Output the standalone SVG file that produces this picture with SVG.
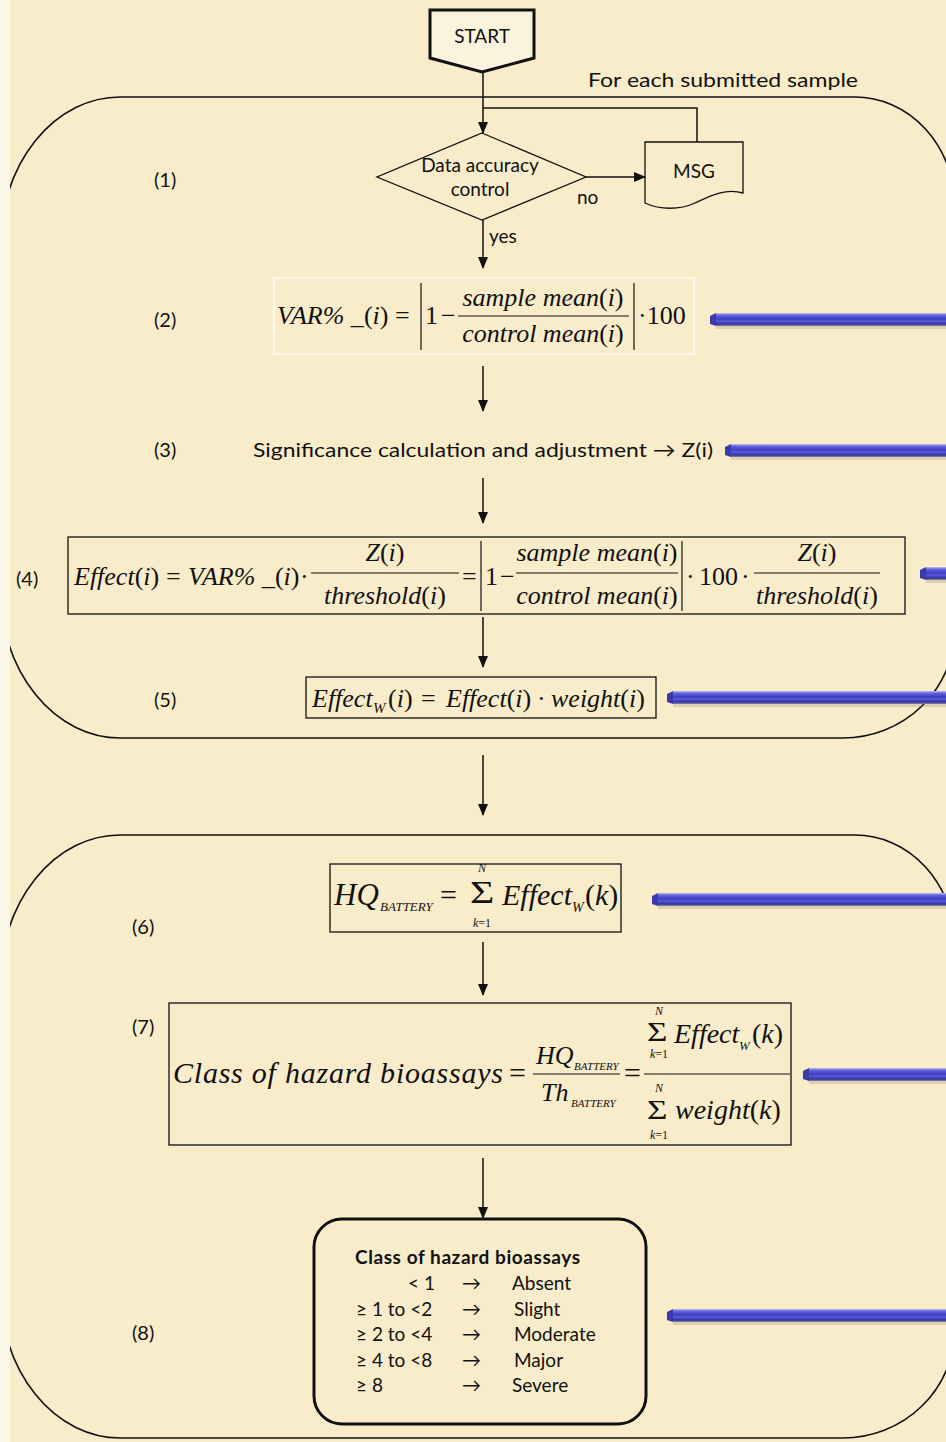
<svg xmlns="http://www.w3.org/2000/svg" width="946" height="1442" viewBox="0 0 946 1442">
<style>
.lbl{font-family:Lato,"Liberation Sans",sans-serif;font-size:20px;fill:#111}
.t{font-family:Lato,"Liberation Sans",sans-serif;font-size:19px;fill:#111}
.m{font-family:"Liberation Serif",serif;font-style:italic;fill:#111}
.u{font-style:normal}
.box{fill:none;stroke:#111;stroke-width:1.3}
.reg{fill:none;stroke:#111;stroke-width:1.6}
.flow{fill:none;stroke:#111;stroke-width:1.5}
.bar{fill:url(#barG)}
.barcap{fill:#3a3aa8}
.shadow{fill:#8a7a60;opacity:0.25}
.rule{stroke:#111;stroke-width:1.2}
</style>
<defs>
<linearGradient id="barG" x1="0" y1="0" x2="0" y2="1">
<stop offset="0" stop-color="#c4c4f2"/>
<stop offset="0.15" stop-color="#6868e0"/>
<stop offset="0.45" stop-color="#3c3cc4"/>
<stop offset="0.62" stop-color="#5a5ad4"/>
<stop offset="0.85" stop-color="#32329c"/>
<stop offset="1" stop-color="#8686a8"/>
</linearGradient>
<marker id="arr" markerWidth="12" markerHeight="12" refX="11" refY="6" orient="auto" markerUnits="userSpaceOnUse">
<path d="M0,1 L12,6 L0,11 Z" fill="#111"/>
</marker>
</defs>

<rect x="0" y="0" width="946" height="1442" fill="#f8ecca"/>

<g id="region1">
<path class="reg" d="M120 97 H855 A100 110 0 0 1 955 207 V628 A112 110 0 0 1 843 738 H120 A120 150 0 0 1 0 588 V247 A120 150 0 0 1 120 97 Z"/>
<text class="lbl" x="588" y="87" font-size="23" textLength="270" lengthAdjust="spacingAndGlyphs">For each submitted sample</text>
</g>
<g id="region2">
<path class="reg" d="M120 835 H855 A100 110 0 0 1 955 945 V1328 A112 110 0 0 1 843 1438 H120 A120 150 0 0 1 0 1288 V985 A120 150 0 0 1 120 835 Z"/>
</g>
<rect x="0" y="0" width="10" height="1442" fill="#fcf6e8"/>

<g id="connectors">
<line class="flow" x1="483" y1="72" x2="483" y2="133" marker-end="url(#arr)"/>
<polyline class="flow" points="697,142 697,108 483,108"/>
<line class="flow" x1="586" y1="177" x2="645" y2="177" marker-end="url(#arr)"/>
<line class="flow" x1="483" y1="220" x2="483" y2="268" marker-end="url(#arr)"/>
<line class="flow" x1="483" y1="366" x2="483" y2="411" marker-end="url(#arr)"/>
<line class="flow" x1="483" y1="478" x2="483" y2="523" marker-end="url(#arr)"/>
<line class="flow" x1="483" y1="617" x2="483" y2="667" marker-end="url(#arr)"/>
<line class="flow" x1="483" y1="755" x2="483" y2="815" marker-end="url(#arr)"/>
<line class="flow" x1="483" y1="942" x2="483" y2="995" marker-end="url(#arr)"/>
<line class="flow" x1="483" y1="1158" x2="483" y2="1218" marker-end="url(#arr)"/>
<text class="t" x="577" y="204" font-size="18">no</text>
<text class="t" x="489" y="243" font-size="19">yes</text>
</g>

<g id="start">
<polygon points="430,10 534,10 534,58 482,72 430,58" fill="#fbf3dc" stroke="#111" stroke-width="3"/>
<text class="t" x="482" y="43" text-anchor="middle" font-size="18">START</text>
</g>

<g id="step1">
<text class="lbl" x="154" y="187">(1)</text>
<polygon points="482,133 586,177 482,220 377,177" fill="none" stroke="#111" stroke-width="1.3"/>
<text class="t" x="480" y="172" text-anchor="middle" font-size="21">Data accuracy</text>
<text class="t" x="480" y="196" text-anchor="middle" font-size="21">control</text>
</g>

<g id="msg">
<path d="M645 142 H743 V193 C725 188 710 196 695 203 C680 210 660 210 645 203 Z" fill="none" stroke="#111" stroke-width="1.3"/>
<text class="t" x="694" y="178" text-anchor="middle">MSG</text>
</g>

<g id="step2">
<text class="lbl" x="154" y="327">(2)</text>
<rect x="274" y="278" width="420" height="76" fill="none" stroke="#fff" stroke-width="1.2"/>
<text class="m" font-size="26" y="324"><tspan x="277">VAR% _</tspan><tspan class="u">(</tspan>i<tspan class="u">) =</tspan></text>
<line class="rule" x1="421" y1="283" x2="421" y2="350"/>
<text class="m u" font-size="26" y="324"><tspan x="425">1</tspan><tspan x="441">−</tspan></text>
<line class="rule" x1="458" y1="316" x2="629" y2="316"/>
<text class="m" font-size="26" x="543" y="306" text-anchor="middle">sample mean<tspan class="u">(</tspan>i<tspan class="u">)</tspan></text>
<text class="m" font-size="26" x="543" y="342" text-anchor="middle">control mean<tspan class="u">(</tspan>i<tspan class="u">)</tspan></text>
<line class="rule" x1="634" y1="283" x2="634" y2="350"/>
<text class="m u" font-size="26" x="638" y="324">·100</text>
</g>

<g id="step3">
<text class="lbl" x="154" y="457">(3)</text>
<text class="lbl" x="253" y="457" font-size="23" textLength="460" lengthAdjust="spacingAndGlyphs">Significance calculation and adjustment → Z(i)</text>
</g>

<g id="step4">
<text class="lbl" x="16" y="586">(4)</text>
<rect class="box" x="68" y="537" width="837" height="77"/>
<text class="m" font-size="26" y="585"><tspan x="74">Effect</tspan><tspan class="u">(</tspan>i<tspan class="u">)</tspan><tspan class="u" x="166">=</tspan><tspan x="188">VAR% _</tspan><tspan class="u">(</tspan>i<tspan class="u">)</tspan><tspan class="u" x="300">·</tspan></text>
<line class="rule" x1="311" y1="573" x2="459" y2="573"/>
<text class="m" font-size="26" x="385" y="561" text-anchor="middle">Z<tspan class="u">(</tspan>i<tspan class="u">)</tspan></text>
<text class="m" font-size="26" x="385" y="604" text-anchor="middle">threshold<tspan class="u">(</tspan>i<tspan class="u">)</tspan></text>
<text class="m u" font-size="26" x="462" y="585">=</text>
<line class="rule" x1="481" y1="541" x2="481" y2="611"/>
<text class="m u" font-size="26" y="585"><tspan x="485">1</tspan><tspan x="500">−</tspan></text>
<line class="rule" x1="516" y1="573" x2="678" y2="573"/>
<text class="m" font-size="26" x="597" y="561" text-anchor="middle">sample mean<tspan class="u">(</tspan>i<tspan class="u">)</tspan></text>
<text class="m" font-size="26" x="597" y="604" text-anchor="middle">control mean<tspan class="u">(</tspan>i<tspan class="u">)</tspan></text>
<line class="rule" x1="682" y1="541" x2="682" y2="611"/>
<text class="m u" font-size="26" y="585"><tspan x="686">·</tspan><tspan x="699">100</tspan><tspan x="741">·</tspan></text>
<line class="rule" x1="754" y1="573" x2="880" y2="573"/>
<text class="m" font-size="26" x="817" y="561" text-anchor="middle">Z<tspan class="u">(</tspan>i<tspan class="u">)</tspan></text>
<text class="m" font-size="26" x="817" y="604" text-anchor="middle">threshold<tspan class="u">(</tspan>i<tspan class="u">)</tspan></text>
</g>

<g id="step5">
<text class="lbl" x="154" y="707">(5)</text>
<rect class="box" x="306" y="677" width="350" height="41"/>
<text class="m" font-size="26" x="312" y="707">Effect</text>
<text class="m" font-size="15" x="373" y="713">W</text>
<text class="m" font-size="26" y="707"><tspan class="u" x="388">(</tspan>i<tspan class="u">)</tspan><tspan class="u" x="421">=</tspan><tspan x="446">Effect</tspan><tspan class="u">(</tspan>i<tspan class="u">)</tspan><tspan class="u" x="537">·</tspan><tspan x="551">weight</tspan><tspan class="u">(</tspan>i<tspan class="u">)</tspan></text>
</g>

<g id="step6">
<text class="lbl" x="132" y="934">(6)</text>
<rect class="box" x="330" y="864" width="291" height="68"/>
<text class="m" font-size="31" x="334" y="905">HQ</text>
<text class="m" font-size="13" x="380" y="911">BATTERY</text>
<text class="m u" font-size="30" x="440" y="905">=</text>
<text class="m u" font-size="31" transform="translate(470,903) scale(1.35,1)">Σ</text>
<text class="m" font-size="12" x="482" y="872" text-anchor="middle">N</text>
<text class="m" font-size="12" x="482" y="927" text-anchor="middle">k<tspan class="u">=1</tspan></text>
<text class="m" font-size="30" x="502" y="905">Effect</text>
<text class="m" font-size="14" x="572" y="912">W</text>
<text class="m" font-size="30" y="905"><tspan class="u" x="585">(</tspan>k<tspan class="u">)</tspan></text>
</g>

<g id="step7">
<text class="lbl" x="132" y="1034">(7)</text>
<rect class="box" x="169" y="1003" width="622" height="142"/>
<text class="m" font-size="30" x="173" y="1083" textLength="330">Class of  hazard  bioassays</text>
<text class="m u" font-size="30" x="509" y="1083">=</text>
<line class="rule" x1="533" y1="1074" x2="620" y2="1074"/>
<text class="m" font-size="26" x="536" y="1064">HQ</text>
<text class="m" font-size="11" x="574" y="1070">BATTERY</text>
<text class="m" font-size="26" x="541" y="1101">Th</text>
<text class="m" font-size="11" x="571" y="1107">BATTERY</text>
<text class="m u" font-size="30" x="624" y="1083">=</text>
<line class="rule" x1="644" y1="1074" x2="790" y2="1074"/>
<text class="m u" font-size="27" transform="translate(647,1041) scale(1.3,1)">Σ</text>
<text class="m" font-size="12" x="659" y="1015" text-anchor="middle">N</text>
<text class="m" font-size="12" x="659" y="1058" text-anchor="middle">k<tspan class="u">=1</tspan></text>
<text class="m" font-size="28" x="674" y="1043">Effect</text>
<text class="m" font-size="13" x="739" y="1050">W</text>
<text class="m" font-size="28" y="1043"><tspan class="u" x="752">(</tspan>k<tspan class="u">)</tspan></text>
<text class="m u" font-size="27" transform="translate(647,1119) scale(1.3,1)">Σ</text>
<text class="m" font-size="12" x="659" y="1092" text-anchor="middle">N</text>
<text class="m" font-size="12" x="659" y="1139" text-anchor="middle">k<tspan class="u">=1</tspan></text>
<text class="m" font-size="28" y="1119"><tspan x="675">weight</tspan><tspan class="u">(</tspan>k<tspan class="u">)</tspan></text>
</g>

<g id="step8">
<text class="lbl" x="132" y="1340">(8)</text>
<rect x="314" y="1219" width="332" height="205" rx="28" fill="none" stroke="#111" stroke-width="3"/>
<text class="t" x="355" y="1264" font-size="22" font-weight="bold" textLength="225">Class of hazard bioassays</text>
<g class="t" font-size="22.5">
<text x="408" y="1290">&lt; 1</text><text x="462" y="1290">→</text><text x="512" y="1290">Absent</text>
<text x="356" y="1316">≥ 1 to &lt;2</text><text x="462" y="1316">→</text><text x="514" y="1316">Slight</text>
<text x="356" y="1341">≥ 2 to &lt;4</text><text x="462" y="1341">→</text><text x="514" y="1341">Moderate</text>
<text x="356" y="1367">≥ 4 to &lt;8</text><text x="462" y="1367">→</text><text x="514" y="1367">Major</text>
<text x="356" y="1392">≥ 8</text><text x="462" y="1392">→</text><text x="512" y="1392">Severe</text>
</g>
</g>

<g id="bars">
<rect class="shadow" x="716" y="316" width="230" height="13"/>
<rect class="bar" x="716" y="313" width="230" height="13"/><polygon class="barcap" points="710,316 716,313 716,326 710,324"/>
<rect class="shadow" x="731" y="447" width="215" height="13"/>
<rect class="bar" x="731" y="444" width="215" height="13"/><polygon class="barcap" points="725,447 731,444 731,457 725,455"/>
<rect class="shadow" x="926" y="570" width="20" height="13"/>
<rect class="bar" x="926" y="567" width="20" height="13"/><polygon class="barcap" points="920,570 926,567 926,580 920,578"/>
<rect class="shadow" x="673" y="694" width="273" height="13"/>
<rect class="bar" x="673" y="691" width="273" height="13"/><polygon class="barcap" points="667,694 673,691 673,704 667,702"/>
<rect class="shadow" x="658" y="896" width="288" height="13"/>
<rect class="bar" x="658" y="893" width="288" height="13"/><polygon class="barcap" points="652,896 658,893 658,906 652,904"/>
<rect class="shadow" x="809" y="1071" width="137" height="13"/>
<rect class="bar" x="809" y="1068" width="137" height="13"/><polygon class="barcap" points="803,1071 809,1068 809,1081 803,1079"/>
<rect class="shadow" x="673" y="1312" width="273" height="13"/>
<rect class="bar" x="673" y="1309" width="273" height="13"/><polygon class="barcap" points="667,1312 673,1309 673,1322 667,1320"/>
</g>
</svg>
